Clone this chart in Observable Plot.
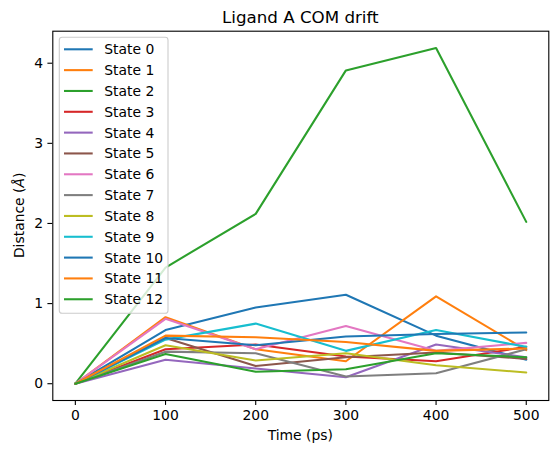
<!DOCTYPE html>
<html><head><meta charset="utf-8">
<script src="https://cdn.jsdelivr.net/npm/d3@7"></script>
<script src="https://cdn.jsdelivr.net/npm/@observablehq/plot@0.6"></script>
<style>body{margin:0;background:white}</style>
</head><body><div id="chart"></div>
<script>
const times = [0, 100, 200, 300, 400, 500];
const states = ["State 0","State 1","State 2","State 3","State 4","State 5","State 6","State 7","State 8","State 9","State 10","State 11","State 12"];
const colors = ["#1f77b4","#ff7f0e","#2ca02c","#d62728","#9467bd","#8c564b","#e377c2","#7f7f7f","#bcbd22","#17becf","#1f77b4","#ff7f0e","#2ca02c"];
const state0  = [0, 0.67, 0.95, 1.11, 0.60, 0.30];
const state1  = [0, 0.83, 0.43, 0.28, 1.09, 0.42];
const state2  = [0, 1.45, 2.12, 3.91, 4.19, 2.02];
const state3  = [0, 0.43, 0.49, 0.34, 0.28, 0.46];
const state4  = [0, 0.30, 0.19, 0.08, 0.49, 0.33];
const state5  = [0, 0.57, 0.22, 0.33, 0.39, 0.31];
const state6  = [0, 0.81, 0.43, 0.72, 0.41, 0.51];
const state7  = [0, 0.40, 0.38, 0.09, 0.13, 0.43];
const state8  = [0, 0.48, 0.29, 0.38, 0.23, 0.14];
const state9  = [0, 0.55, 0.75, 0.41, 0.67, 0.46];
const state10 = [0, 0.57, 0.48, 0.59, 0.62, 0.64];
const state11 = [0, 0.60, 0.58, 0.52, 0.41, 0.44];
const state12 = [0, 0.37, 0.15, 0.18, 0.38, 0.33];
const series = [state0,state1,state2,state3,state4,state5,state6,state7,state8,state9,state10,state11,state12];
const xTicks = [0, 100, 200, 300, 400, 500];
const yTicks = [0, 1, 2, 3, 4];
const title = "Ligand A COM drift";
const xLabel = "Time (ps)";

const data = states.flatMap((s, i) => times.map((t, j) => ({state: s, time: t, dist: series[i][j]})));

const W = 558, H = 453;
const mL = 52.3, mR = 9.7, mT = 30.7, mB = 53;

const svg = Plot.plot({
  width: W, height: H,
  marginLeft: mL, marginRight: mR, marginTop: mT, marginBottom: mB,
  style: {fontFamily: "DejaVu Sans", fontSize: "13.9px", background: "white", color: "black"},
  x: {domain: [-25, 525]},
  y: {domain: [-0.2095, 4.3995]},
  color: {domain: states, range: colors},
  marks: [
    Plot.line(data, {x: "time", y: "dist", z: "state", stroke: "state", strokeWidth: 2.08, strokeLinejoin: "round"}),
    Plot.frame({stroke: "black", strokeWidth: 1.1}),
    Plot.axisX(xTicks, {tickSize: 4.9, tickPadding: 4.9, strokeWidth: 1.1, label: null, fill: "black"}),
    Plot.axisY(yTicks, {tickSize: 4.9, tickPadding: 4.9, strokeWidth: 1.1, label: null, fill: "black", tickFormat: d => String(d)})
  ]
});
document.getElementById("chart").appendChild(svg);

const s = d3.select(svg);
const cx = mL + (W - mL - mR) / 2;
s.append("text").attr("x", cx).attr("y", 22.7).attr("text-anchor", "middle")
  .attr("font-size", "16.7px").attr("fill", "black").text(title);
s.append("text").attr("x", cx).attr("y", 439.5).attr("text-anchor", "middle")
  .attr("font-size", "13.9px").attr("fill", "black").text(xLabel);
const yl = s.append("text").attr("transform", `translate(23.5,${mT + (H - mT - mB) / 2}) rotate(-90)`)
  .attr("text-anchor", "middle").attr("font-size", "13.9px").attr("fill", "black");
yl.append("tspan").text("Distance (");
yl.append("tspan").attr("font-style", "italic").text("Å");
yl.append("tspan").text(")");

// legend
const lg = s.append("g").attr("text-anchor", "start");
lg.append("rect").attr("x", 59.3).attr("y", 37.3).attr("width", 108.7).attr("height", 276)
  .attr("rx", 2.8).attr("fill", "white").attr("fill-opacity", 0.8)
  .attr("stroke", "#cccccc").attr("stroke-width", 1.1);
states.forEach((st, i) => {
  const yy = 49.3 + i * 20.83;
  lg.append("line").attr("x1", 64).attr("x2", 92.7).attr("y1", yy).attr("y2", yy)
    .attr("stroke", colors[i]).attr("stroke-width", 2.08);
  lg.append("text").attr("x", 104.3).attr("y", yy).attr("dy", "0.36em").attr("text-anchor", "start")
    .attr("font-size", "13.9px").attr("fill", "black").text(st);
});
</script>
</body></html>
